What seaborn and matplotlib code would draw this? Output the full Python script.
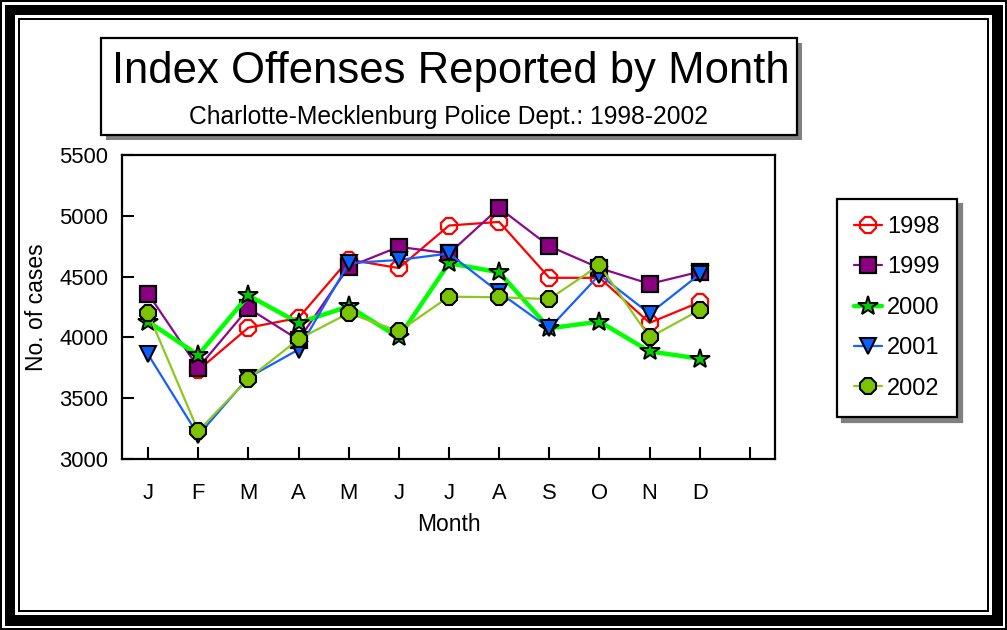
import numpy as np
import pandas as pd
import matplotlib
matplotlib.use("Agg")
import matplotlib.pyplot as plt
from matplotlib.patches import Rectangle
import seaborn as sns

months = ['J', 'F', 'M', 'A', 'M', 'J', 'J', 'A', 'S', 'O', 'N', 'D']
y1998 = [np.nan, 3730, 4080, 4160, 4640, 4570, 4920, 4950, 4490, 4490, 4120, 4290]
y1999 = [4360, 3750, 4240, 3980, 4580, 4745, 4690, 5065, 4750, 4570, 4440, 4540]
y2000 = [4130, 3855, 4345, 4120, 4255, 4000, 4610, 4535, 4075, 4130, 3885, 3825]
y2001 = [3860, 3195, 3670, 3900, 4610, 4637, 4690, 4370, 4075, 4515, 4195, 4520]
y2002 = [4200, 3230, 3660, 3985, 4200, 4050, 4335, 4330, 4315, 4595, 4000, 4225]
years = ['1998', '1999', '2000', '2001', '2002']
yticks = [3000, 3500, 4000, 4500, 5000, 5500]

sns.set_style("white")
plt.rcParams['font.family'] = ['Liberation Sans', 'DejaVu Sans']
plt.rcParams['text.color'] = 'black'
plt.rcParams['axes.labelcolor'] = 'black'

W, H = 1007, 630
fig = plt.figure(figsize=(W / 100, H / 100), dpi=100)
fig.patch.set_facecolor('white')


def prect(x0, y0, x1, y1, **kw):
    r = Rectangle((x0 / W, 1 - y1 / H), (x1 - x0) / W, (y1 - y0) / H,
                  transform=fig.transFigure, **kw)
    fig.add_artist(r)
    return r


# decorative page border
for ins, col in [(0, 'black'), (2, 'white'), (4.5, 'black'), (15, 'white'),
                 (18, 'black'), (20, 'white')]:
    prect(ins, ins, W - ins, H - ins, facecolor=col, edgecolor='none', zorder=-20 + ins / 100)

# title box with shadow
prect(106, 43, 802, 140, facecolor='#808080', edgecolor='none', zorder=-5)
prect(101, 38, 797, 135, facecolor='white', edgecolor='black', linewidth=1.6, zorder=-4)
fig.text(451 / W, 1 - 71.5 / H, 'Index Offenses Reported by Month', ha='center', va='center',
         fontsize=31.4, color='black')
fig.text(448.5 / W, 1 - 117 / H, 'Charlotte-Mecklenburg Police Dept.: 1998-2002',
         ha='center', va='center', fontsize=17.7, color='black')

ax = fig.add_axes([122 / W, 1 - 459 / H, (775 - 122) / W, (459 - 155) / H])
ax.set_facecolor('white')

x = np.arange(len(months))
series = {'1998': y1998, '1999': y1999, '2000': y2000, '2001': y2001, '2002': y2002}
styles = {
    '1998': dict(color='#ff0000', lw=1.6, marker='8', markersize=12.5,
                 markerfacecolor='none', markeredgecolor='#ff0000', markeredgewidth=1.6),
    '1999': dict(color='#8b0a8b', lw=1.6, marker='s', markersize=11.5,
                 markerfacecolor='#8b0080', markeredgecolor='black', markeredgewidth=1.6),
    '2000': dict(color='#00ff00', lw=3.2, marker='*', markersize=15,
                 markerfacecolor='#00cc00', markeredgecolor='black', markeredgewidth=1.4),
    '2001': dict(color='#1560ff', lw=1.6, marker='v', markersize=12,
                 markerfacecolor='#0a60ff', markeredgecolor='black', markeredgewidth=1.5),
    '2002': dict(color='#8cc81e', lw=1.6, marker='8', markersize=12.5,
                 markerfacecolor='#7cc400', markeredgecolor='black', markeredgewidth=1.5),
}
for yr in years:
    df = pd.DataFrame({'x': x, 'y': series[yr]})
    sns.lineplot(data=df, x='x', y='y', ax=ax, label=yr, errorbar=None, **styles[yr])

ax.set_xlim(-0.52, 12.5)
ax.set_ylim(3000, 5500)
ax.set_xticks(np.arange(13))
ax.set_xticklabels(months + [''])
ax.set_yticks(yticks)
ax.set_yticklabels([str(v) for v in yticks])
ax.tick_params(axis='both', direction='in', length=8.6, width=1.5, color='black',
               labelsize=15.8, labelcolor='black', bottom=True, left=True,
               top=False, right=False)
ax.tick_params(axis='x', pad=17)
ax.tick_params(axis='y', pad=10)
for side in ['left', 'right', 'top', 'bottom']:
    ax.spines[side].set_visible(True)
    ax.spines[side].set_color('black')
    ax.spines[side].set_linewidth(1.6)
ax.set_xlabel('Month', fontsize=16.5, labelpad=7, color='black')
ax.set_ylabel('No. of cases', fontsize=16.5, labelpad=8, color='black')

handles, labels = ax.get_legend_handles_labels()
leg = fig.legend(handles, labels, loc='upper left',
                 bbox_to_anchor=(837 / W, 1 - 199 / H), bbox_transform=fig.transFigure,
                 borderaxespad=0, fontsize=17, frameon=True, fancybox=False,
                 handlelength=1.2, handletextpad=0.2, labelspacing=0.78, borderpad=0.72,
                 shadow={'ox': 3.6, 'oy': -3.6, 'color': '#808080', 'alpha': 1})
leg.get_frame().set_edgecolor('black')
leg.get_frame().set_linewidth(1.6)
for t in leg.get_texts():
    t.set_color('black')
if ax.get_legend() is not None:
    ax.get_legend().remove()

fig.savefig('out.png', dpi=100)
